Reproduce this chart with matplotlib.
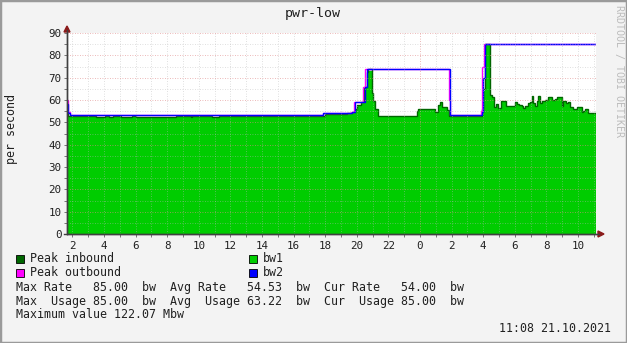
import numpy as np
import matplotlib.pyplot as plt
from matplotlib.patches import Rectangle, Polygon

W, H = 627, 343

# time axis in hours since 00:00 on 20.10.2021
T_START = 1.66
T_END = 35.14

# bw1 (area) - start of each step and its value
bw1_t = [1.66, 1.72, 3.49, 4.06, 4.32, 4.57, 5.08, 5.77, 6.03, 8.56, 9.51, 9.57,
         9.76, 10.0, 10.84, 11.28, 17.99, 19.38, 19.70, 19.89, 20.02, 20.27, 20.46,
         20.63, 20.71, 20.96, 21.03, 21.15, 21.34, 23.81, 23.88, 24.95, 25.15, 25.28,
         25.41, 25.72, 25.85, 27.91, 27.99, 28.12, 28.43, 28.56, 28.68, 28.81, 28.94,
         29.13, 29.44, 30.01, 30.14, 30.27, 30.46, 30.52, 30.65, 30.84, 30.97, 31.09,
         31.16, 31.28, 31.41, 31.47, 31.60, 31.73, 31.92, 32.10, 32.36, 32.55, 32.67,
         32.99, 33.06, 33.25, 33.37, 33.50, 33.69, 33.94, 34.25, 34.32, 34.44, 34.63]
bw1_v = [54.0, 53.0, 52.5, 53.0, 52.5, 53.0, 52.5, 53.0, 52.5, 53.0, 52.6, 53.0,
         52.7, 53.0, 52.5, 53.0, 53.4, 54.0, 54.8, 56.0, 57.6, 59.0, 66.0,
         71.7, 73.0, 63.0, 59.4, 55.8, 53.0, 55.2, 55.8, 54.8, 57.8, 59.0,
         57.0, 55.5, 53.0, 56.0, 64.0, 84.6, 62.2, 61.2, 57.0, 58.2, 56.6,
         59.7, 57.3, 59.3, 58.2, 57.7, 57.3, 56.3, 57.5, 58.5, 59.3, 62.0,
         58.5, 57.5, 59.7, 62.0, 58.5, 59.7, 60.0, 61.2, 60.0, 60.5, 61.2,
         57.3, 59.7, 58.5, 59.3, 57.0, 56.0, 57.0, 54.8, 55.2, 56.0, 54.0]
# peak inbound line, same steps
peak_in_v = [54.0, 53.0, 52.5, 53.0, 52.5, 53.0, 52.5, 53.0, 52.5, 53.0, 52.6, 53.0,
             52.7, 53.0, 52.5, 53.0, 53.6, 54.0, 54.8, 56.0, 57.6, 59.0, 66.0,
             72.5, 73.8, 63.0, 59.4, 55.8, 53.0, 55.2, 55.8, 54.8, 57.8, 59.0,
             57.0, 55.5, 53.0, 56.0, 65.0, 85.0, 62.2, 61.2, 57.0, 58.2, 56.6,
             59.7, 57.3, 59.3, 58.2, 57.7, 57.3, 56.3, 57.5, 58.5, 59.3, 62.0,
             58.5, 57.5, 59.7, 62.0, 58.5, 59.7, 60.0, 61.2, 60.0, 60.5, 61.2,
             57.3, 59.7, 58.5, 59.3, 57.0, 56.0, 57.0, 54.8, 55.2, 56.0, 54.0]

# bw2 (blue line)
bw2_t = [1.66, 1.72, 1.85, 17.86, 19.70, 19.89, 20.50, 20.63, 25.91, 27.91, 27.99, 28.12]
bw2_v = [58.0, 54.0, 53.3, 54.0, 54.8, 59.0, 66.0, 73.8, 53.3, 54.8, 70.0, 85.0]

# peak outbound (magenta line)
peak_out_t = [1.66, 1.72, 1.85, 17.86, 19.66, 19.85, 20.40, 20.55, 25.85, 25.91, 27.88, 27.95, 28.05]
peak_out_v = [60.0, 54.5, 53.3, 54.0, 54.8, 59.0, 66.0, 73.8, 60.0, 53.3, 55.0, 75.0, 85.0]

hour_ticks = list(range(2, 35, 2))
hour_labels = [str(h % 24) for h in hour_ticks]

legend_left = [('Peak inbound', '#006600'), ('Peak outbound', '#FF00FF')]
legend_right = [('bw1', '#00CC00'), ('bw2', '#0000FF')]
stat_lines = [
    'Max Rate   85.00  bw  Avg Rate   54.53  bw  Cur Rate   54.00  bw',
    'Max  Usage 85.00  bw  Avg  Usage 63.22  bw  Cur  Usage 85.00  bw',
    'Maximum value 122.07 Mbw',
]
stamp = '11:08 21.10.2021'


def fx(x):
    return x / W


def fy(y):
    return 1 - y / H


plt.rcParams['font.family'] = 'DejaVu Sans Mono'

fig = plt.figure(figsize=(W / 100, H / 100), dpi=100, facecolor='#f3f3f3')

# frame of the canvas
fig.patches.append(Rectangle((0, 0), 1, 1, transform=fig.transFigure, fill=False,
                             edgecolor='#9a9a9a', lw=2.5))

ax = fig.add_axes([fx(67), fy(234), fx(596) - fx(67), fy(33) - fy(234)])
ax.set_facecolor('white')
ax.set_xlim(T_START, T_END)
ax.set_ylim(0, 90)

ax.stairs(bw1_v, bw1_t + [T_END], baseline=0, fill=True, color='#00CC00', lw=0, zorder=2)
ax.stairs(peak_in_v, bw1_t + [T_END], baseline=None, color='#006600', lw=1.0, zorder=3)
ax.stairs(peak_out_v, peak_out_t + [T_END], baseline=None, color='#FF00FF', lw=1.0, zorder=4)
ax.stairs(bw2_v, bw2_t + [T_END], baseline=None, color='#0000FF', lw=1.0, zorder=5)

# grid drawn on top of the data, like rrdtool does
for h in range(2, 36):
    major = (h % 24 == 0)
    ax.axvline(h, color='#e08a8a' if major else '#b8b8b8', lw=0.6,
               ls=(0, (1, 2)), alpha=0.8 if major else 0.6, zorder=6)
for v in range(5, 95, 5):
    major = (v % 10 == 0)
    ax.axhline(v, color='#e08a8a' if major else '#b8b8b8', lw=0.6,
               ls=(0, (1, 2)), alpha=0.8 if major else 0.6, zorder=6, clip_on=False)

for s in ['top', 'right']:
    ax.spines[s].set_visible(False)
for s in ['left', 'bottom']:
    ax.spines[s].set_color('#404040')
    ax.spines[s].set_linewidth(1.0)
    ax.spines[s].set_zorder(7)

ax.set_xticks(hour_ticks)
ax.set_xticklabels(hour_labels)
ax.set_xticks(range(2, 36), minor=True)
ax.set_yticks(range(0, 100, 10))
ax.set_yticks(range(5, 95, 10), minor=True)
ax.tick_params(which='both', direction='out', length=2, width=0.6, color='#606060',
               labelsize=7.8, labelcolor='#202020', pad=2)
ax.tick_params(axis='x', pad=3)

# axis arrows
fig.patches.append(Polygon([[fx(64), fy(32)], [fx(70), fy(32)], [fx(67), fy(26)]],
                           closed=True, transform=fig.transFigure, color='#8b1a1a'))
fig.patches.append(Polygon([[fx(598), fy(231)], [fx(598), fy(237)], [fx(604), fy(234)]],
                           closed=True, transform=fig.transFigure, color='#8b1a1a'))
fig.lines.append(plt.Line2D([fx(67), fx(67)], [fy(234), fy(30)], transform=fig.transFigure,
                            color='#404040', lw=1.0))
fig.lines.append(plt.Line2D([fx(64), fx(599)], [fy(234), fy(234)], transform=fig.transFigure,
                            color='#404040', lw=1.0))

fig.text(fx(313), fy(13), 'pwr-low', ha='center', va='center', fontsize=9.6, color='#202020')
fig.text(fx(11), fy(129), 'per second', ha='center', va='center', rotation=90,
         fontsize=8.4, color='#202020')
fig.text(fx(619), fy(5), 'RRDTOOL / TOBI OETIKER', ha='center', va='top', rotation=-90,
         fontsize=7.2, color='#bcbcbc')

# legend
for i, (lab, col) in enumerate(legend_left):
    y = 259 + 14 * i
    fig.patches.append(Rectangle((fx(16), fy(y + 4)), fx(8), fy(0) - fy(8), transform=fig.transFigure,
                                 facecolor=col, edgecolor='#000000', lw=0.6))
    fig.text(fx(30), fy(y), lab, ha='left', va='center', fontsize=8.4, color='#202020')
for i, (lab, col) in enumerate(legend_right):
    y = 259 + 14 * i
    fig.patches.append(Rectangle((fx(249), fy(y + 4)), fx(8), fy(0) - fy(8), transform=fig.transFigure,
                                 facecolor=col, edgecolor='#000000', lw=0.6))
    fig.text(fx(263), fy(y), lab, ha='left', va='center', fontsize=8.4, color='#202020')

for i, line in enumerate(stat_lines):
    fig.text(fx(16), fy(287 + 14 * i), line, ha='left', va='center', fontsize=8.4, color='#202020')

fig.text(fx(611), fy(329), stamp, ha='right', va='center', fontsize=8.4, color='#202020')

fig.savefig('out.png', dpi=100, facecolor=fig.get_facecolor())
